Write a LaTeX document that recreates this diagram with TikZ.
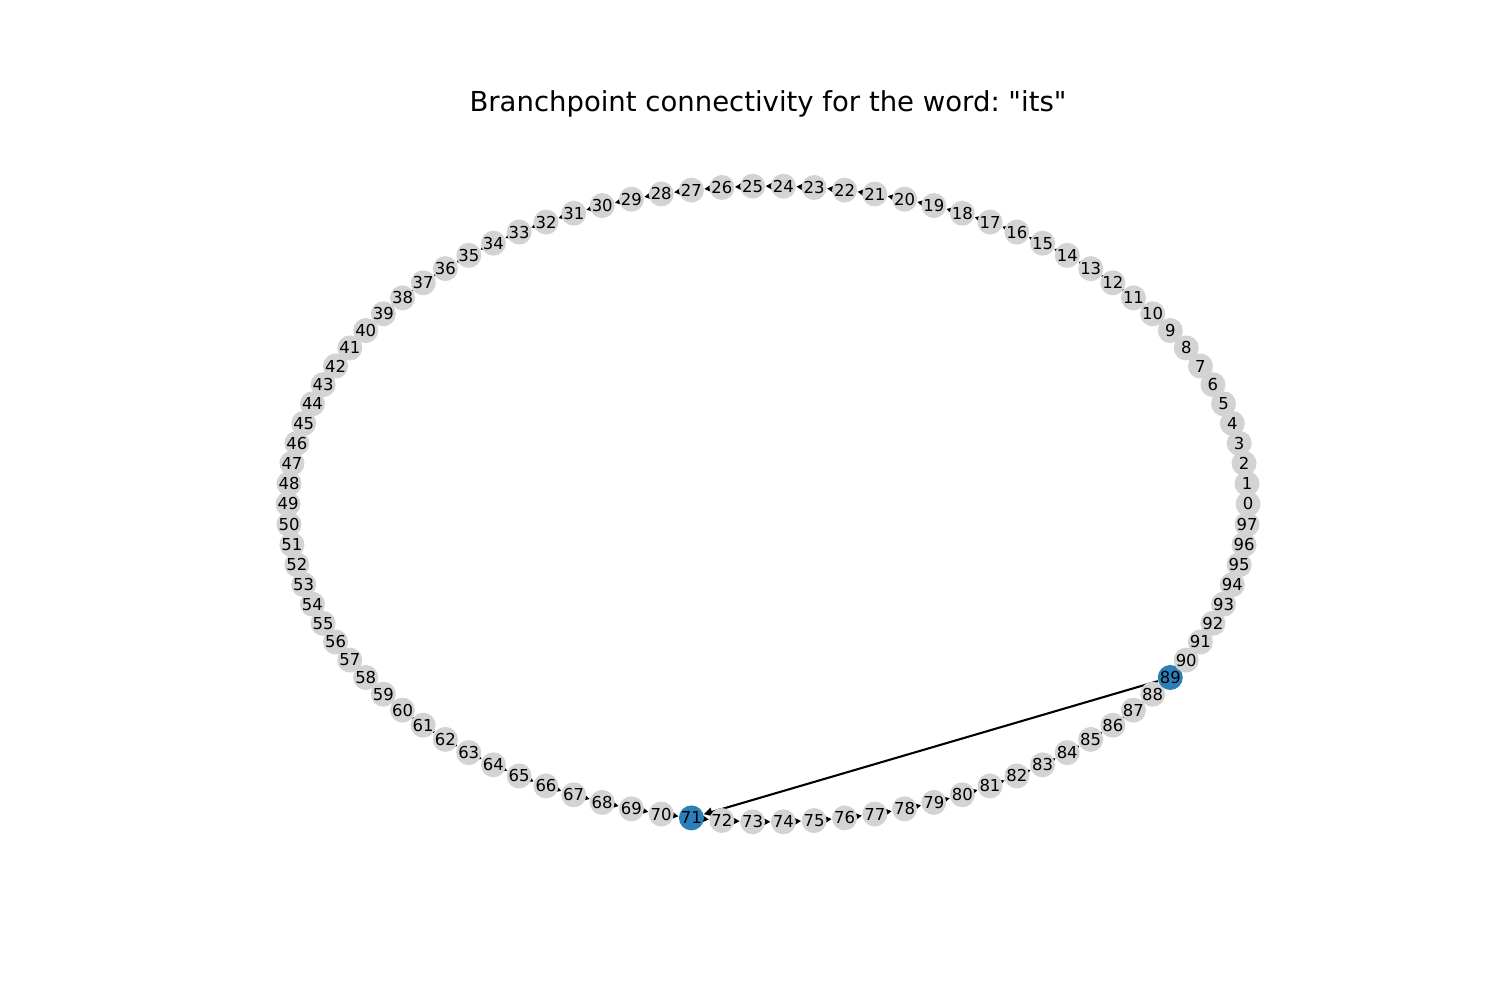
\documentclass[tikz,border=0pt]{standalone}
\usepackage{fontspec}
\setmainfont{DejaVu Sans}
\usetikzlibrary{arrows.meta}
\pgfdeclarelayer{edges}
\pgfsetlayers{edges,main}
\definecolor{nodegray}{RGB}{211,211,211}
\definecolor{branchblue}{RGB}{44,128,186}
\frenchspacing

\begin{document}
\begin{tikzpicture}[
  x=0.48pt, y=-0.48pt,
  vertex/.style={circle, fill=nodegray, minimum size=12pt, inner sep=0pt},
  branch/.style={vertex, fill=branchblue},
  edge/.style={-{Triangle[length=4pt,width=4pt]}, line width=1pt, black},
  lbl/.style={font=\fontsize{7.9}{9}\selectfont, inner sep=0pt}]
\useasboundingbox (0,0) rectangle (1500,1000);
\node[font=\fontsize{13.2}{16}\selectfont, anchor=base, inner sep=0pt] (title) at (768,112)
  {Branchpoint connectivity for the word: \textquotedbl its\textquotedbl};
% nodes on an ellipse
\foreach \i in {0,...,97} {
  \pgfmathsetmacro{\ang}{\i/98*360}
  \ifnum\i=71 \def\sty{branch}\else\ifnum\i=89 \def\sty{branch}\else\def\sty{vertex}\fi\fi
  \node[\sty] (v\i) at ({768+480*cos(\ang)},{504-318*sin(\ang)}) {};
}
% edges below the nodes
\begin{pgfonlayer}{edges}
\foreach \i [evaluate=\i as \j using int(\i+1)] in {0,...,96}
  \draw[edge] (v\i) -- (v\j);
\draw[edge] (v89) -- (v71);
\end{pgfonlayer}
% labels on top
\foreach \i in {0,...,97}
  \node[lbl] (l\i) at (v\i.center) {\i};
\end{tikzpicture}
\end{document}
